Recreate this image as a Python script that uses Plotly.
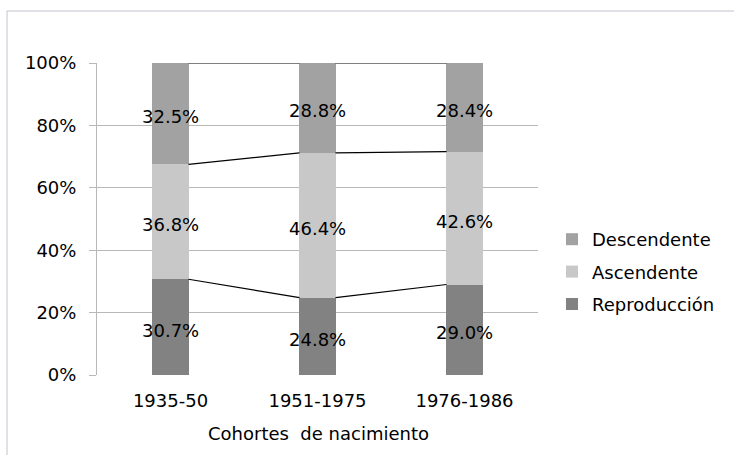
import plotly.graph_objects as go

# Cohort categories and shares of each mobility type (%)
cohorts = ["1935-50", "1951-1975", "1976-1986"]
reproduccion = [30.7, 24.8, 29.0]
ascendente = [36.8, 46.4, 42.6]
descendente = [32.5, 28.8, 28.4]

series = [
    ("Reproducción", reproduccion, "#828282"),
    ("Ascendente", ascendente, "#c8c8c8"),
    ("Descendente", descendente, "#a2a2a2"),
]

FONT = "DejaVu Sans"
FSIZE = 18
TXT = "#000000"
BAR_W = 0.245
xpos = list(range(len(cohorts)))

fig = go.Figure()

base = [0.0] * len(cohorts)
tops = []
annotations = []
for i, (name, vals, color) in enumerate(series):
    fig.add_trace(go.Bar(
        x=xpos, y=vals, name=name, marker=dict(color=color, line=dict(width=0)),
        width=BAR_W, legendgroup=name, legendrank=len(series) - i, hoverinfo="skip",
    ))
    for j, v in enumerate(vals):
        annotations.append(dict(
            x=xpos[j], y=base[j] + v / 2, xref="x", yref="y",
            text=f"{v:.1f}%", showarrow=False, yshift=-3,
            font=dict(family=FONT, size=FSIZE, color=TXT),
        ))
    base = [b + v for b, v in zip(base, vals)]
    tops.append(list(base))

# Series lines joining the top of each segment between neighbouring bars
for level in tops:
    lx, ly = [], []
    for j in range(len(cohorts) - 1):
        lx += [xpos[j] + BAR_W / 2, xpos[j + 1] - BAR_W / 2, None]
        ly += [level[j], level[j + 1], None]
    fig.add_trace(go.Scatter(
        x=lx, y=ly, mode="lines", line=dict(color="#000000", width=1.2),
        showlegend=False, hoverinfo="skip",
    ))

L, R, T, B = 97, 196, 63, 80
W, H = 734, 455
pw, ph = W - L - R, H - T - B

def px_x(px):
    return (px - L) / pw

def px_y(py):
    return (H - B - py) / ph

annotations.append(dict(
    x=px_x(318), y=px_y(433), xref="paper", yref="paper",
    xanchor="center", yanchor="middle",
    text="Cohortes  de nacimiento",
    showarrow=False, font=dict(family=FONT, size=FSIZE, color=TXT),
))

fig.update_layout(
    width=W, height=H,
    margin=dict(l=L, r=R, t=T, b=B, pad=0, autoexpand=False),
    paper_bgcolor="white", plot_bgcolor="white",
    barmode="stack",
    font=dict(family=FONT, size=FSIZE, color=TXT),
    showlegend=True,
    legend=dict(
        xref="container", yref="container",
        x=552 / W, y=1 - 221 / H, xanchor="left", yanchor="top",
        traceorder="grouped", tracegroupgap=6,
        font=dict(family=FONT, size=FSIZE, color=TXT),
        itemwidth=30, bgcolor="rgba(0,0,0,0)",
    ),
    xaxis=dict(
        range=[-0.5, 2.5], tickmode="array", tickvals=xpos, ticktext=cohorts,
        showgrid=False, zeroline=False, showline=False, ticks="",
        ticklabelstandoff=13, automargin=False,
        tickfont=dict(family=FONT, size=FSIZE, color=TXT),
    ),
    yaxis=dict(
        range=[0, 100], tickmode="array", tickvals=[0, 20, 40, 60, 80, 100],
        ticktext=["0%", "20%", "40%", "60%", "80%", "100%"],
        showgrid=True, gridcolor="#b8b8b8", gridwidth=1,
        zeroline=False, showline=True, linecolor="#b8b8b8", linewidth=1,
        ticks="outside", ticklen=7, tickcolor="#b8b8b8",
        ticklabelstandoff=9, automargin=False,
        tickfont=dict(family=FONT, size=FSIZE, color=TXT),
    ),
    annotations=annotations,
    shapes=[dict(
        type="rect", xref="paper", yref="paper",
        x0=px_x(7), x1=px_x(760), y0=px_y(480), y1=px_y(11),
        line=dict(color="#c6c0d0", width=1), fillcolor="rgba(0,0,0,0)",
        layer="below",
    )],
)

fig.write_html("out.html")
